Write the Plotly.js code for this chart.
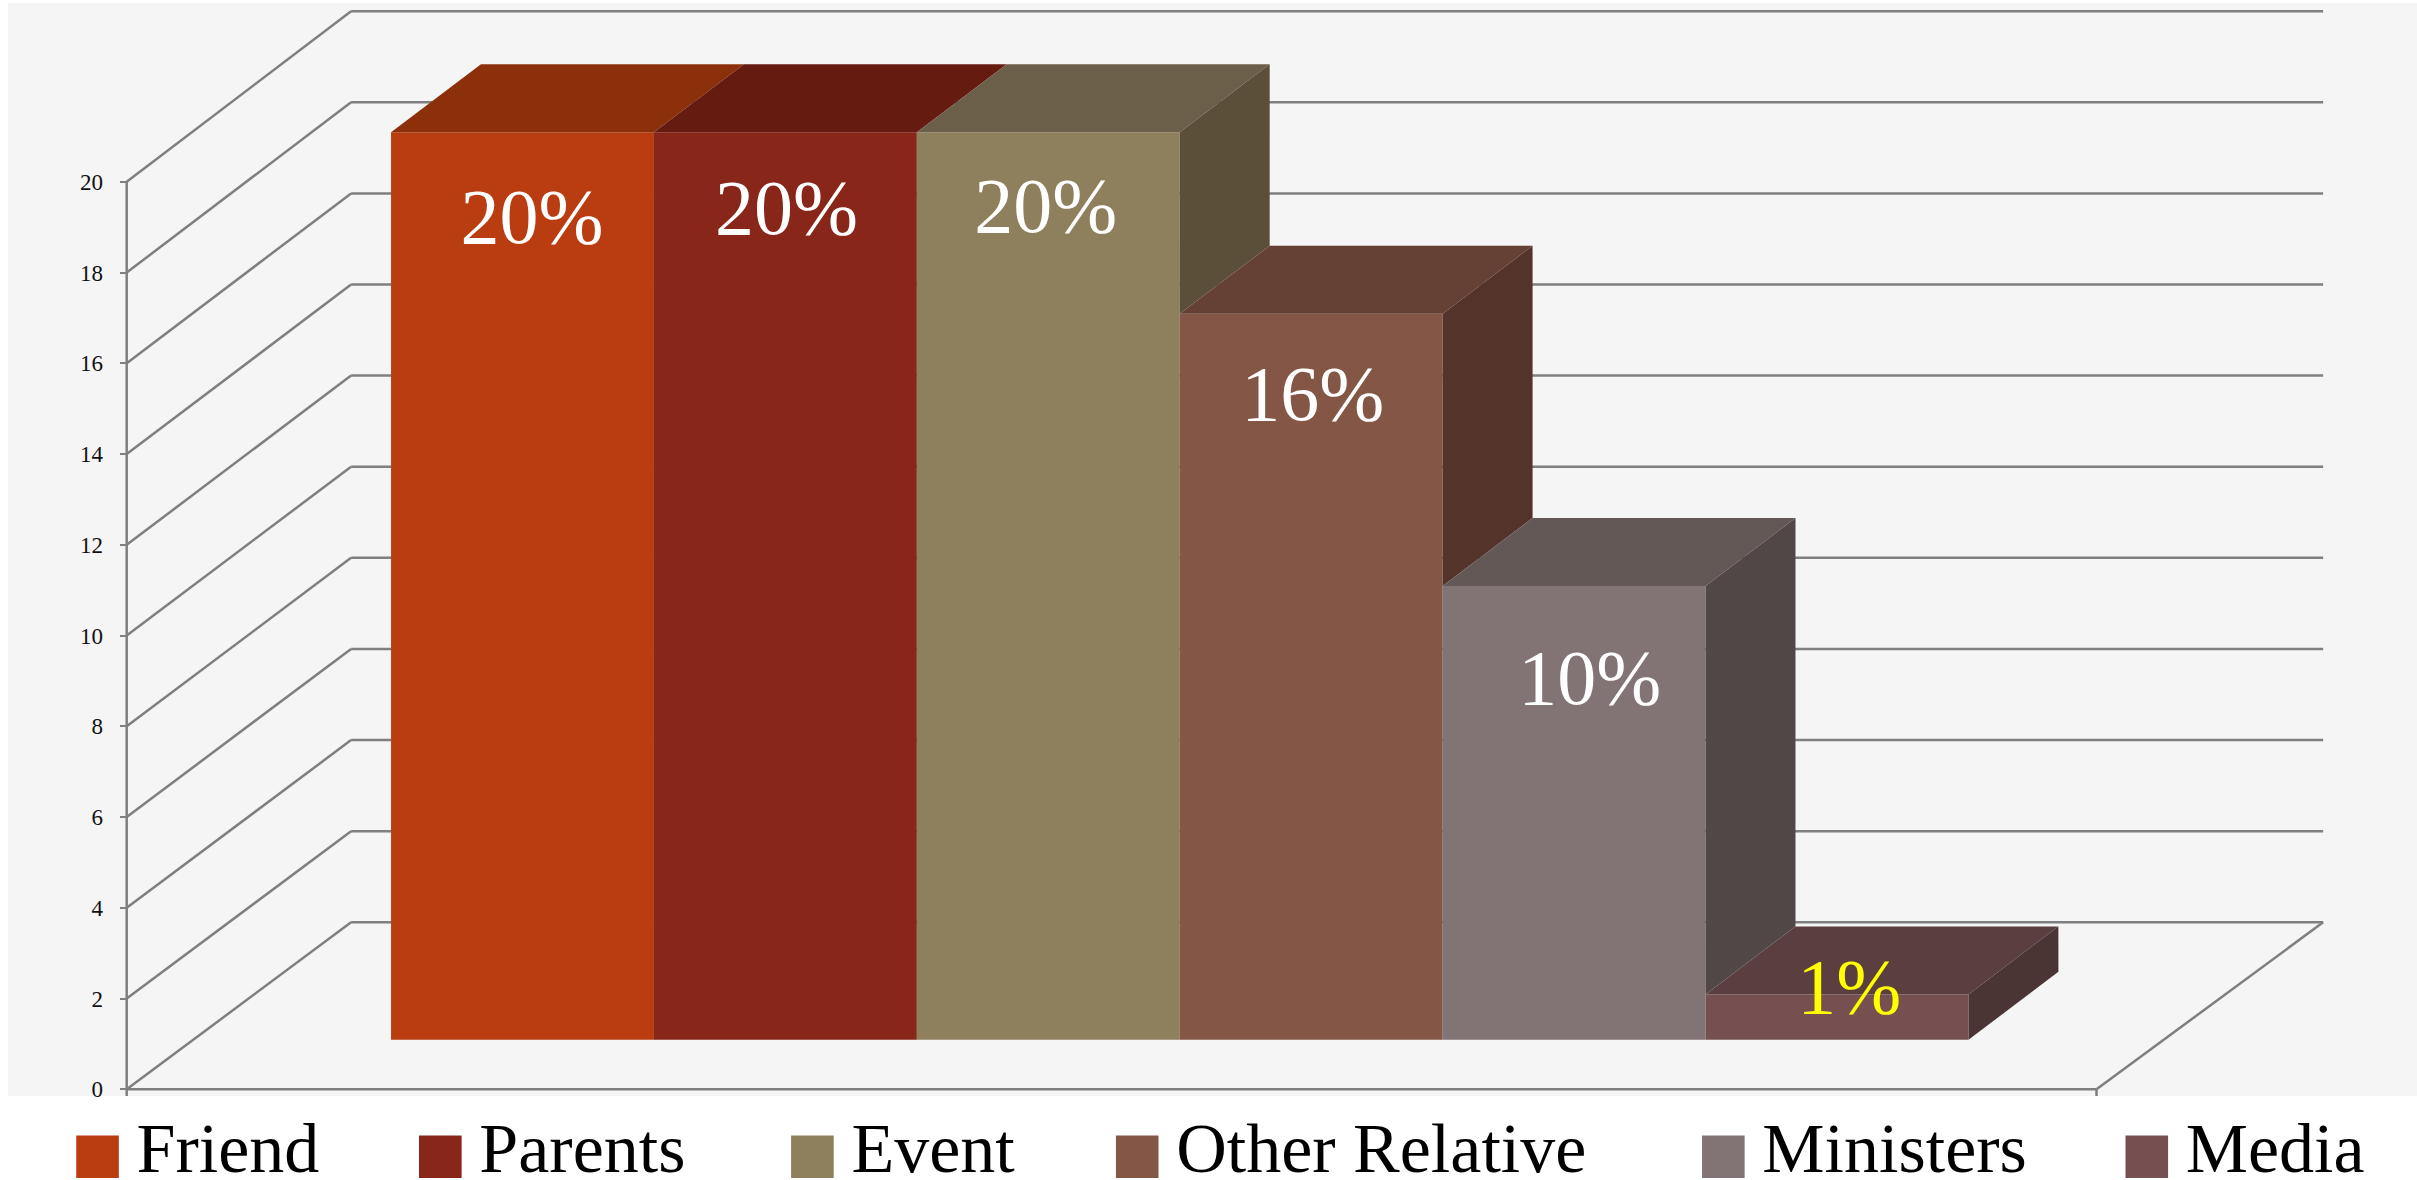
<!DOCTYPE html>
<html>
<head>
<meta charset="utf-8">
<script src="https://cdn.plot.ly/plotly-3.0.1.min.js"></script>
<style>html,body{margin:0;padding:0;background:#fff;overflow:hidden}#chart{width:2417px;height:1180px}</style>
</head>
<body>
<div id="chart"></div>
<script>
var categories = ['Friend','Parents','Event','Other Relative','Ministers','Media'];
var values = [20,20,20,16,10,1];
var labels = ['20%','20%','20%','16%','10%','1%'];
var labelColors = ['#ffffff','#ffffff','#ffffff','#ffffff','#ffffff','#ffff00'];
var labelY = [19.07,19.27,19.32,15.19,8.91,2.12];
var labelNudge = [0.036,0.004,-0.01,0.006,0.059,0.046];
var frontColors = ['#B93D10','#88261A','#8E7F5D','#835646','#827375','#765051'];
var topColors = ['#8C300C','#661B10','#6C5F49','#654135','#645857','#5B3E3F'];
var sideColors = ['#6B240A','#4E140C','#5C4F3A','#54342A','#524747','#4A3434'];
var gridValues = [0,2,4,6,8,10,12,14,16,18,20];
var legendExtraGap = [0,45,96,142,203,247];

var barBase = 1.09, depthX = 0.342, depthY = 1.5;
var axisX = -1.5055, wallX = -0.652, wallEndX = 6.849, floorEndX = 5.987;
var wallYat = function(v){ return 3.68 + 1.004*v; };
var GRID = '#7f7f7f';

var traces = [];
categories.forEach(function(name,i){
  traces.push({type:'bar', name:name, x:[i], y:[values[i]], base:[barBase], width:[1],
    marker:{color:frontColors[i], line:{width:0}}, hoverinfo:'skip'});
});
categories.forEach(function(name,i){
  var l=i-0.5, r=i+0.5, t=barBase+values[i];
  traces.push({type:'scatter', mode:'lines', showlegend:false, hoverinfo:'skip',
    x:[l,l+depthX,r+depthX,r,l], y:[t,t+depthY,t+depthY,t,t],
    fill:'toself', fillcolor:topColors[i], line:{width:0}});
  var next = i<categories.length-1 ? values[i+1] : 0;
  if(next<values[i]){
    var n=barBase+next;
    traces.push({type:'scatter', mode:'lines', showlegend:false, hoverinfo:'skip',
      x:[r,r+depthX,r+depthX,r,r], y:[t,t+depthY,n+depthY,n,t],
      fill:'toself', fillcolor:sideColors[i], line:{width:0}});
  }
});
traces.push({type:'scatter', mode:'text', showlegend:false, hoverinfo:'skip',
  x:categories.map(function(c,i){return i+labelNudge[i];}), y:labelY, text:labels,
  textposition:'middle center',
  textfont:{family:'"Liberation Serif", serif', size:78, color:labelColors}});

function seg(x0,y0,x1,y1){
  return {type:'line', layer:'below', xref:'x', yref:'y', x0:x0,y0:y0,x1:x1,y1:y1, line:{color:GRID,width:2.5}};
}
var shapes = [];
gridValues.forEach(function(v){
  shapes.push(seg(axisX,v,wallX,wallYat(v)));
  shapes.push(seg(wallX,wallYat(v),wallEndX,wallYat(v)));
});
shapes.push(seg(axisX,-0.148,axisX,20));
shapes.push(seg(axisX,0,floorEndX,0));
shapes.push(seg(floorEndX,0,wallEndX,wallYat(0)));
shapes.push(seg(floorEndX,-0.148,floorEndX,0));

var layout = {
  width:2417, height:1180, paper_bgcolor:'#ffffff', plot_bgcolor:'#F5F5F5',
  margin:{l:8,r:0,t:3,b:84,autoexpand:false},
  barmode:'overlay', showlegend:true, shapes:shapes,
  xaxis:{range:[-1.957,7.206], visible:false, fixedrange:true},
  yaxis:{range:[-0.148,23.94], anchor:'free', position:0.04927, side:'left',
    showgrid:false, zeroline:false, showline:false, tickmode:'array', tickvals:gridValues,
    ticktext:gridValues.map(String), ticks:'outside', ticklen:7, tickwidth:2, tickcolor:GRID,
    ticklabelstandoff:12, fixedrange:true,
    tickfont:{family:'"Liberation Serif", serif', size:23, color:'#111111'}},
  legend:{orientation:'h', x:0.0077, xanchor:'left', y:0.003, yanchor:'top',
    itemwidth:100, bgcolor:'rgba(0,0,0,0)', traceorder:'normal',
    font:{family:'"Liberation Serif", serif', size:70, color:'#000000'}}
};
Plotly.newPlot('chart',traces,layout,{displayModeBar:false,staticPlot:true}).then(function(gd){
  gd.querySelectorAll('.legend .legendpoints path').forEach(function(p){
    p.setAttribute('transform','translate(71,12) scale(3.55)');
  });
  var box = gd.querySelector('.legend .scrollbox');
  if(box){ box.removeAttribute('clip-path'); box.style.clipPath='none'; }
  gd.querySelectorAll('.legend .traces').forEach(function(g,k){
    var m = /translate\(([-\d.]+)[, ]+([-\d.]+)\)/.exec(g.getAttribute('transform')||'');
    if(m){ g.setAttribute('transform','translate('+(parseFloat(m[1])+legendExtraGap[k])+','+m[2]+')'); }
  });
});
</script>
</body>
</html>
